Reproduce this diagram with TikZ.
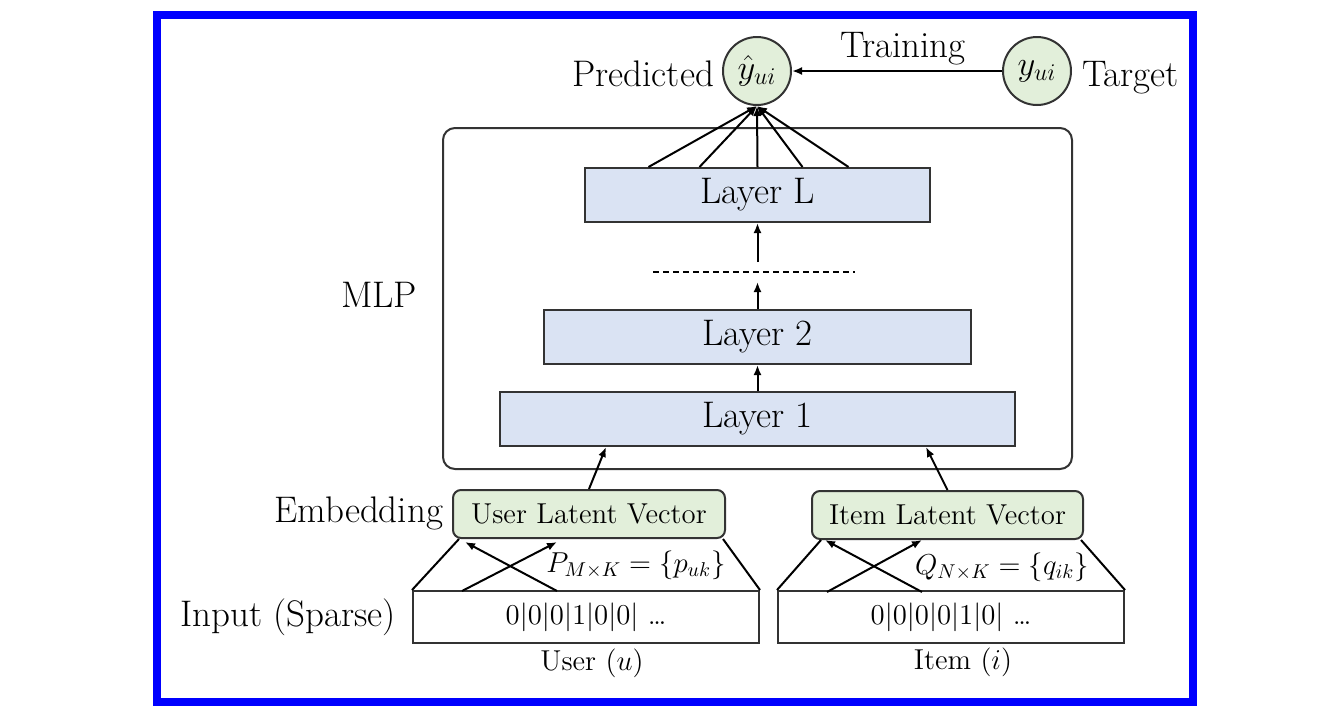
\documentclass[tikz,border=0pt]{standalone}
\usetikzlibrary{arrows.meta,positioning}

\definecolor{layerblue}{RGB}{218,227,243}
\definecolor{latentgreen}{RGB}{226,239,218}
\definecolor{frameblue}{RGB}{0,0,255}
\newcommand{\lblfont}{\fontsize{18.5}{22}\selectfont}
\newcommand{\smallerfont}{\fontsize{14.4}{17}\selectfont}

\tikzset{every picture/.style={line width=1pt}}
\tikzset{
  arr/.style={-{Latex[length=5pt,width=4pt]}},
  lbl/.style={inner sep=0pt, font=\lblfont},
  smalllbl/.style={inner sep=0pt, font=\smallerfont},
  valnode/.style={circle, draw=black!80, fill=latentgreen, minimum size=34pt, inner sep=0pt, font=\lblfont},
  mlpbox/.style={draw=black!80, rounded corners=6pt, minimum width=314.5pt, minimum height=170.5pt, inner sep=0pt},
  layerbox/.style={draw=black!80, fill=layerblue, minimum height=27pt, inner sep=0pt, font=\lblfont},
  latentbox/.style={draw=black!80, fill=latentgreen, rounded corners=4pt, minimum height=24pt, minimum width=136pt, inner sep=0pt, font=\smallerfont},
  inputbox/.style={draw=black!80, minimum width=173pt, minimum height=26pt, inner sep=0pt, font=\smallerfont}
}

\begin{document}
\begin{tikzpicture}[x=0.5pt,y=0.5pt,yscale=-1,xscale=1]
\useasboundingbox (0,0) rectangle (1324,720);

%Shape: Frame
\draw [frameblue, line width=4pt] (157,15) rectangle (1193,702);

%Shape: Circle [predicted]
\node [valnode] (yhat) at (757,71) {$\hat{y}_{ui}$};
%Shape: Circle [target]
\node [valnode] (ytrue) at (1037,71) {$y_{ui}$};
%Straight Lines [training]
\draw [arr] (ytrue) -- (yhat);

%Shape: Rounded Rect [mlp]
\node [mlpbox] (mlp) at (757.5,298.5) {};
%Shape: Rectangle [layers]
\node [layerbox, minimum width=172.5pt] (layerL) at (757.5,195) {Layer L};
\node [layerbox, minimum width=213.5pt] (layer2) at (757.5,337) {Layer 2};
\node [layerbox, minimum width=257.5pt] (layer1) at (757.5,419) {Layer 1};

%Straight Lines [layer L to prediction]
\foreach \dx in {-54.5,-29,0,22.5,45.5}
  \draw [arr] ([xshift=\dx pt]layerL.north) -- (yhat.south);

%Straight Lines [dashed]
\coordinate (dashA) at (653,272);
\coordinate (dashB) at (855,272);
\draw [dash pattern=on 3pt off 2pt] (dashA) -- (dashB);
\coordinate (dtop) at (757.5,262);
\coordinate (dbot) at (757.5,282);
\draw [arr] (dtop) -- (layerL.south);
\draw [arr] (layer2.north) -- (dbot);
\draw [arr] (layer1.north) -- (layer2.south);

%Shape: Rounded Rect [embedding]
\node [latentbox] (ulat) at (589,514) {User Latent Vector};
\node [latentbox, minimum width=135.5pt] (ilat) at (947.5,515) {Item Latent Vector};
\coordinate (uup) at (606,447);
\coordinate (iup) at (926,447);
\draw [arr] (ulat.north) -- (uup);
\draw [arr] (ilat.north) -- (iup);

%Shape: Rectangle [input]
\node [inputbox] (uin) at (586,617) {0|0|0|1|0|0| \dots};
\node [inputbox] (iin) at (951,617) {0|0|0|0|1|0| \dots};

%Straight Lines [user projection]
\draw (uin.north west) -- ([xshift=3.5pt]ulat.south west);
\draw (uin.north east) -- ([xshift=-1.5pt]ulat.south east);
\coordinate (uxa) at (462,591);
\coordinate (uxb) at (557,591);
\coordinate (uya) at (465,542);
\coordinate (uyb) at (557,542);
\draw [arr] (uxa) -- (uyb);
\draw [arr] (uxb) -- (uya);

%Straight Lines [item projection]
\draw (iin.north west) -- ([xshift=5pt]ilat.south west);
\draw (iin.north east) -- ([xshift=-1.5pt]ilat.south east);
\coordinate (ixa) at (827,592);
\coordinate (ixb) at (922,592);
\coordinate (iya) at (825,540);
\coordinate (iyb) at (922,540);
\draw [arr] (ixa) -- (iyb);
\draw [arr] (ixb) -- (iya);

% Text Node
\node [lbl, anchor=east] (predlbl) at (715,74) {Predicted};
% Text Node
\node [lbl, anchor=west] (targetlbl) at (1081,78) {Target};
% Text Node
\node [lbl] (trainlbl) at (903,49) {Training};
% Text Node
\node [lbl] (mlplbl) at (379,295) {MLP};
% Text Node
\node [lbl, anchor=east] (emblbl) at (444,513) {Embedding};
% Text Node
\node [lbl, anchor=east] (inlbl) at (397,617) {Input (Sparse)};
% Text Node
\node [smalllbl] (plbl) at (636,565) {$P_{M\times K} = \{p_{uk}\}$};
% Text Node
\node [smalllbl] (qlbl) at (1002,567) {$Q_{N\times K} = \{q_{ik}\}$};
% Text Node
\node [smalllbl] (userlbl) at (592,663) {User ($u$)};
% Text Node
\node [smalllbl] (itemlbl) at (963,662) {Item ($i$)};

\end{tikzpicture}
\end{document}
